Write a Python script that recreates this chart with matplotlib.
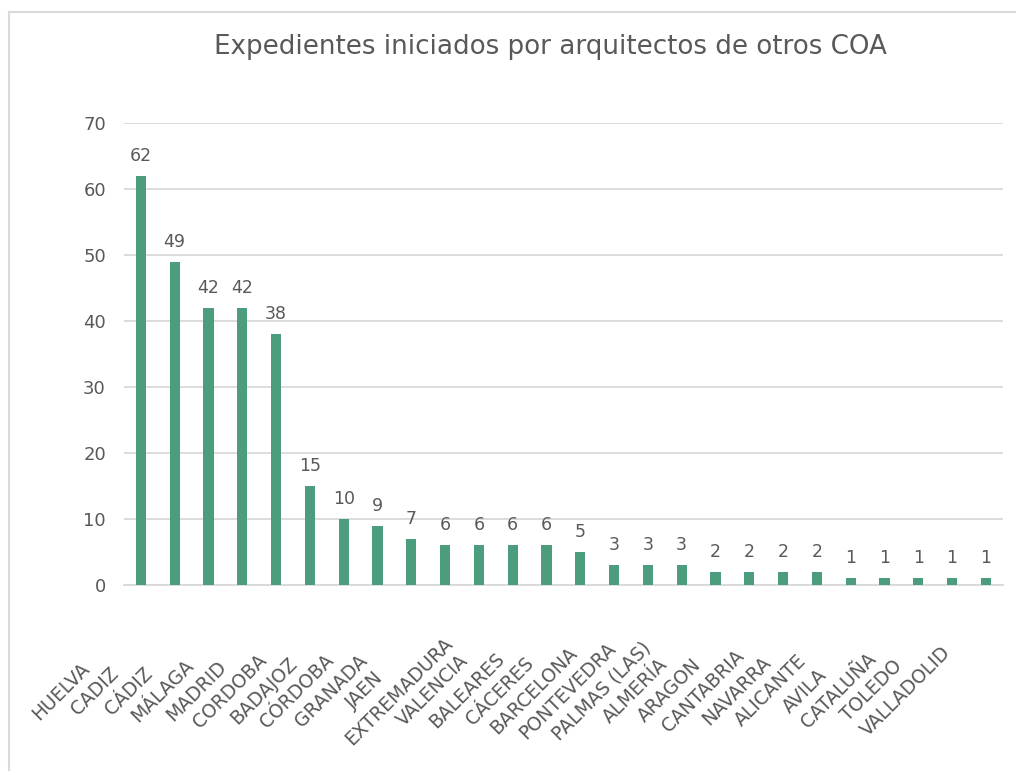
import matplotlib
matplotlib.use('Agg')
import matplotlib.pyplot as plt
import matplotlib.transforms as mtransforms
from matplotlib.lines import Line2D

# datos
provincias = ['HUELVA', 'CADIZ', 'CÁDIZ', 'MÁLAGA', 'MADRID', 'CORDOBA', 'BADAJOZ',
              'CÓRDOBA', 'GRANADA', 'JAEN', 'EXTREMADURA', 'VALENCIA', 'BALEARES',
              'CÁCERES', 'BARCELONA', 'PONTEVEDRA', 'PALMAS (LAS)', 'ALMERÍA', 'ARAGON',
              'CANTABRIA', 'NAVARRA', 'ALICANTE', 'AVILA', 'CATALUÑA', 'TOLEDO', 'VALLADOLID']
expedientes = [62, 49, 42, 42, 38, 15, 10, 9, 7, 6, 6, 6, 6, 5, 3, 3, 3, 2, 2, 2, 2, 1, 1, 1, 1, 1]
yticks = [0, 10, 20, 30, 40, 50, 60, 70]

gris = '#595959'
verde = '#4C9C7E'

plt.rcParams['font.family'] = ['DejaVu Sans']

fig = plt.figure(figsize=(10.16, 7.71), dpi=100)
ax = fig.add_axes([0.122, 0.2412, 0.865, 0.5993])

x = range(len(provincias))
bars = ax.bar(x, expedientes, width=0.3, color=verde, zorder=3)

for xi, v in zip(x, expedientes):
    ax.annotate(str(v), (xi, v), xytext=(0, 11), textcoords='offset pixels',
                ha='center', va='bottom', fontsize=12.5, color=gris)

ax.set_xlim(-0.5, len(provincias) - 0.5)
ax.set_ylim(0, 70)
ax.set_yticks(yticks)
ax.yaxis.grid(True, color='#d9d9d9', linewidth=1.3, zorder=0)
ax.tick_params(axis='y', length=0, pad=13, labelsize=13, labelcolor=gris)
ax.tick_params(axis='x', length=0)
for s in ['top', 'right', 'left']:
    ax.spines[s].set_visible(False)
ax.spines['bottom'].set_color('#d9d9d9')
ax.spines['bottom'].set_linewidth(1.3)

ax.set_xticks(list(x))
ax.set_xticklabels(provincias, rotation=45, ha='center', va='center',
                   rotation_mode='anchor', fontsize=13.5, color=gris)
offset = mtransforms.ScaledTranslation(-80 / 100, -101 / 100, fig.dpi_scale_trans)
for lab in ax.get_xticklabels():
    lab.set_transform(lab.get_transform() + offset)

fig.text(0.5415, 0.939, 'Expedientes iniciados por arquitectos de otros COA',
         ha='center', va='center', fontsize=18.8, color=gris)

# marco
fig.add_artist(Line2D([9 / 1016, 9 / 1016], [0, 1 - 12 / 771], color='#d9d9d9', lw=1.5))
fig.add_artist(Line2D([9 / 1016, 1], [1 - 12 / 771, 1 - 12 / 771], color='#d9d9d9', lw=1.5))

fig.savefig('out.png', dpi=100)
